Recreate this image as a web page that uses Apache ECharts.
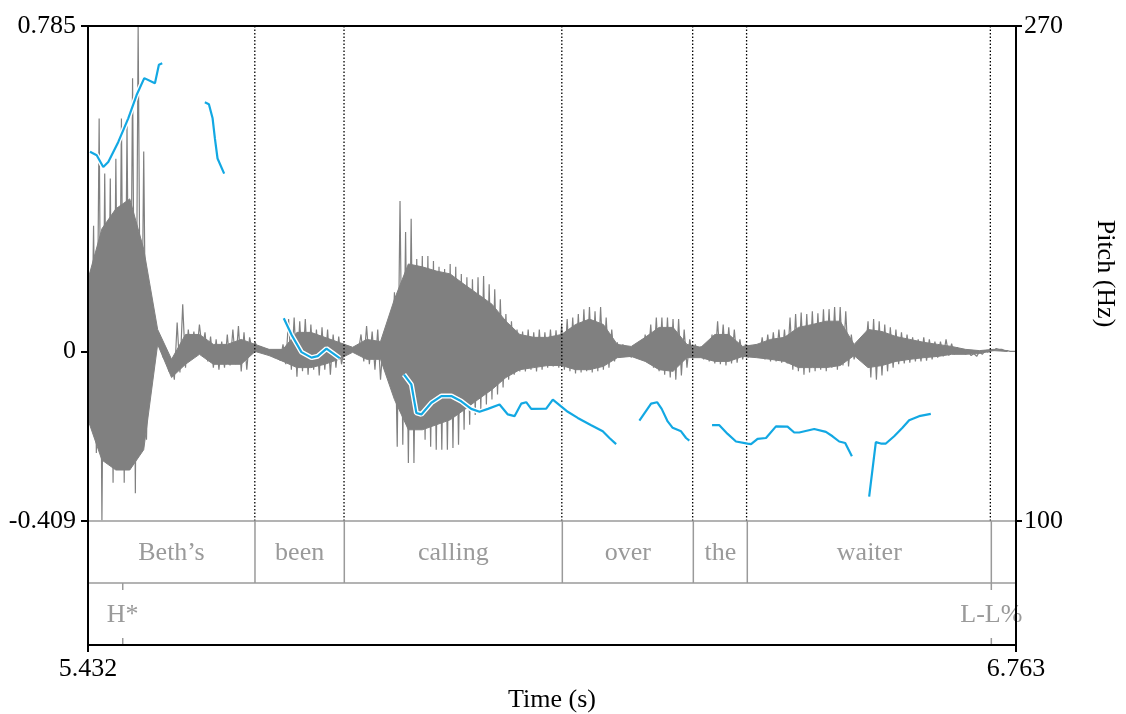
<!DOCTYPE html>
<html>
<head>
<meta charset="utf-8">
<script src="https://cdn.jsdelivr.net/npm/echarts@6/dist/echarts.min.js"></script>
<style>
html,body{margin:0;padding:0;background:#fff;}
#chart{width:1126px;height:714px;}
</style>
</head>
<body>
<div id="chart"></div>
<script>
// ---- axis ranges and tick labels ----
const TIME_MIN = 5.432, TIME_MAX = 6.763;
const AMP_MIN = -0.409, AMP_MAX = 0.785;
const PITCH_MIN = 100, PITCH_MAX = 270;
const TIME_TICKS = [5.432, 6.763];
const AMP_TICKS = [-0.409, 0, 0.785];
const PITCH_TICKS = [100, 270];

// ---- waveform spikes: successive extremes (peak, trough) sampled every WAVE_DT s ----
const WAVE_T0 = 5.432, WAVE_DT = 0.004;
const WAVE_HI = [
 0.247,0.303,0.562,0.429,0.417,0.465,0.562,0.545,0.659,0.785,
 0.482,0.126,0.078,0.022,0.005,-0.024,0.070,0.114,0.053,0.048,
 0.065,0.046,0.036,0.029,0.024,0.041,0.053,0.061,0.046,0.034,
 0.022,0.012,0.005,-0.002,-0.010,0.017,0.078,0.082,0.073,0.078,
 0.065,0.053,0.058,0.053,0.041,0.036,0.010,0.012,0.010,0.041,
 0.061,0.048,0.053,0.024,0.029,0.143,0.363,0.288,0.320,0.223,
 0.230,0.230,0.218,0.204,0.199,0.211,0.204,0.187,0.179,0.174,
 0.179,0.182,0.162,0.150,0.126,0.090,0.073,0.053,0.048,0.053,
 0.046,0.053,0.046,0.053,0.051,0.065,0.078,0.082,0.090,0.102,
 0.107,0.097,0.107,0.082,0.053,0.022,0.017,0.012,0.015,0.022,
 0.041,0.065,0.082,0.082,0.082,0.078,0.078,0.053,0.029,0.017,
 0.012,0.017,0.041,0.073,0.065,0.058,0.053,0.029,0.017,0.015,
 0.017,0.034,0.041,0.046,0.053,0.053,0.082,0.090,0.094,0.090,
 0.097,0.092,0.102,0.102,0.107,0.107,0.097,0.041,0.017,0.005,
 0.073,0.078,0.073,0.065,0.058,0.053,0.046,0.041,0.034,0.029,
 0.034,0.029,0.024,0.024,0.029,0.019,0.010,0.005,0,-0.005,
 0,0.002,0.005,0.007,0.005,0.002,0
];
const WAVE_LO = [
 -0.165,-0.245,-0.407,-0.213,-0.317,-0.262,-0.317,-0.269,-0.342,-0.237,
 -0.213,-0.044,0.017,-0.015,-0.048,-0.068,-0.051,-0.039,-0.012,-0.007,
 0.005,-0.024,-0.039,-0.044,-0.039,-0.034,-0.031,-0.048,-0.044,0,
 0.005,0,-0.007,-0.015,-0.022,-0.031,-0.044,-0.061,-0.048,-0.056,
 -0.044,-0.058,-0.044,-0.056,-0.039,-0.031,-0.005,0,-0.002,-0.024,
 -0.031,-0.044,-0.068,-0.019,-0.027,-0.230,-0.225,-0.269,-0.269,-0.177,
 -0.213,-0.230,-0.237,-0.237,-0.237,-0.233,-0.225,-0.189,-0.177,-0.153,
 -0.141,-0.128,-0.116,-0.104,-0.087,-0.068,-0.056,-0.048,-0.048,-0.044,
 -0.048,-0.044,-0.039,-0.036,-0.039,-0.044,-0.048,-0.053,-0.051,-0.048,
 -0.051,-0.048,-0.044,-0.039,-0.024,-0.015,-0.010,-0.015,-0.012,-0.019,
 -0.024,-0.039,-0.048,-0.056,-0.063,-0.068,-0.058,-0.039,-0.015,-0.007,
 -0.019,-0.024,-0.029,-0.031,-0.034,-0.029,-0.027,-0.019,-0.015,-0.010,
 -0.015,-0.019,-0.024,-0.024,-0.027,-0.029,-0.044,-0.048,-0.056,-0.051,
 -0.048,-0.044,-0.048,-0.039,-0.044,-0.034,-0.036,-0.019,0,-0.007,
 -0.063,-0.068,-0.058,-0.048,-0.039,-0.031,-0.029,-0.027,-0.024,-0.024,
 -0.022,-0.019,-0.015,-0.012,-0.010,-0.007,-0.005,-0.007,-0.010,-0.012,
 -0.007,-0.002,0.002,0.005,0.002,0,0
];
// ---- waveform dense core band, sampled every CORE_DT s ----
const CORE_T0 = 5.432, CORE_DT = 0.02;
const CORE_HI = [
 0.174,0.296,0.344,0.368,0.247,0.053,-0.019,0.041,0.041,0.017,
 0.017,0.029,0.017,0.005,0.005,0.046,0.046,0.034,0.022,0.010,
 0.029,0.024,0.126,0.211,0.204,0.194,0.187,0.162,0.138,0.114,
 0.073,0.041,0.034,0.034,0.041,0.065,0.078,0.065,0.017,0.012,
 0.034,0.058,0.058,0.017,0.010,0.041,0.041,0.012,0.017,0.029,
 0.034,0.058,0.065,0.073,0.073,0.017,0.053,0.048,0.036,0.029,
 0.022,0.017,0.012,0.005,0.002,0.005,0.002
];
const CORE_LO = [
 -0.165,-0.262,-0.286,-0.286,-0.237,0.017,-0.063,-0.031,-0.007,-0.031,
 -0.031,-0.031,0,-0.010,-0.024,-0.039,-0.039,-0.031,-0.019,-0.002,
 -0.019,-0.019,-0.116,-0.189,-0.189,-0.177,-0.165,-0.141,-0.116,-0.092,
 -0.063,-0.044,-0.039,-0.034,-0.034,-0.044,-0.044,-0.036,-0.015,-0.012,
 -0.024,-0.044,-0.048,-0.015,-0.015,-0.024,-0.024,-0.012,-0.015,-0.019,
 -0.024,-0.039,-0.039,-0.039,-0.034,-0.010,-0.039,-0.034,-0.024,-0.019,
 -0.015,-0.012,-0.007,-0.007,-0.005,0.002,0
];

// ---- pitch contour (s, Hz); null = unvoiced gap ----
const PITCH_T = [
 5.4349,5.4445,5.4539,5.4611,5.4755,5.4898,5.5018,5.5128,5.5281,5.5338,5.5386, null,
 5.5998,5.6056,5.6109,5.6142,5.6180,5.6275, null,
 5.7131,5.7246,5.7385,5.7529,5.7619,5.7744,5.7838,5.7934, null,
 5.8857,5.8963,5.9035,5.9106,5.9250,5.9393,5.9537,5.9680,5.9823,5.9942,6.0062,6.0229,6.0348,6.0444,6.0540,6.0612,6.0684,6.0899,6.0994,6.1209,6.1352,6.1545,6.1711,6.1807,6.1903, null,
 6.2237,6.2405,6.2491,6.2557,6.2643,6.2715,6.2835,6.2907,6.2954, null,
 6.3280,6.3385,6.3504,6.3624,6.3791,6.3840,6.3934,6.4055,6.4198,6.4364,6.4460,6.4532,6.4747,6.4915,6.5010,6.5106,6.5192,6.5288, null,
 6.5536,6.5632,6.5704,6.5776,6.5895,6.6014,6.6110,6.6253,6.6421
];
const PITCH_HZ = [
 226.8,225.6,221.6,223.3,230.2,238.3,246.3,252.1,250.3,256.7,257.2, null,
 243.8,243.1,238.3,231.4,224.5,219.3, null,
 169.6,163.8,158.0,156.1,156.6,159.2,157.6,155.9, null,
 150.3,146.9,137.1,136.6,140.6,142.9,142.9,141.1,138.5,137.5,138.5,140.0,136.6,136.0,140.3,140.8,138.5,138.6,141.7,137.5,135.4,132.9,130.8,128.5,126.4, null,
 134.5,140.3,140.8,138.5,134.2,132.0,130.8,128.5,127.6, null,
 132.9,132.9,129.9,127.3,126.6,126.4,128.2,128.5,132.5,132.4,130.4,130.4,131.6,130.6,129.1,127.3,126.8,122.2, null,
 108.4,127.1,126.6,126.6,129.1,132.0,134.6,136.0,136.8
];

// ---- TextGrid tiers ----
const WORD_BOUNDS = [5.432, 5.6715, 5.7996, 6.1123, 6.3002, 6.3776, 6.7276, 6.763];
const WORD_LABELS = ['Beth\u2019s', 'been', 'calling', 'over', 'the', 'waiter', ''];
const TONE_TIMES = [5.4818, 6.7276];
const TONE_LABELS = ['H*', 'L-L%'];

// ---- build series data ----
const waveData = [];
for (let k = 0; k < WAVE_HI.length; k++) {
  waveData.push([WAVE_T0 + 2 * k * WAVE_DT, WAVE_HI[k]]);
  waveData.push([WAVE_T0 + (2 * k + 1) * WAVE_DT, WAVE_LO[k]]);
}
const pitchData = PITCH_T.map((t, i) => t === null ? [null, '-'] : [t, PITCH_HZ[i]]);
const wordData = [];
for (let i = 0; i < WORD_LABELS.length; i++) wordData.push([WORD_BOUNDS[i], WORD_BOUNDS[i + 1], WORD_LABELS[i]]);
const innerBounds = WORD_BOUNDS.slice(1, -1);
const toneData = TONE_TIMES.map((t, i) => [t, TONE_LABELS[i]]);

const FONT = '"Liberation Serif", "Times New Roman", serif';
const GREY = '#9a9a9a';
const WAVE_GREY = '#808080';
const txt = { fontFamily: FONT, fontSize: 26, color: '#000' };

const chart = echarts.init(document.getElementById('chart'), null, { renderer: 'canvas' });
chart.setOption({
  animation: false,
  backgroundColor: '#fff',
  grid: [
    { left: 88, top: 26, width: 928, height: 495 },
    { left: 88, top: 521, width: 928, height: 124 },
    { left: 88, top: 26, width: 928, height: 619, show: true, borderColor: '#000', borderWidth: 2, backgroundColor: 'rgba(0,0,0,0)', z: 10 }
  ],
  xAxis: [
    { gridIndex: 0, type: 'value', min: TIME_MIN, max: TIME_MAX, show: false },
    {
      gridIndex: 1, type: 'value', min: TIME_MIN, max: TIME_MAX,
      axisLine: { show: false }, splitLine: { show: false },
      axisTick: { show: true, customValues: TIME_TICKS, length: 7, lineStyle: { color: '#000', width: 2 } },
      axisLabel: { customValues: TIME_TICKS, formatter: v => v.toFixed(3), margin: 11, ...txt },
      name: 'Time (s)', nameLocation: 'middle', nameGap: 42, nameTextStyle: txt
    }
  ],
  yAxis: [
    {
      gridIndex: 0, type: 'value', position: 'left', min: AMP_MIN, max: AMP_MAX,
      axisLine: { show: false }, splitLine: { show: false },
      axisTick: { show: true, customValues: AMP_TICKS, length: 7, lineStyle: { color: '#000', width: 2 } },
      axisLabel: { customValues: AMP_TICKS, formatter: v => String(v), margin: 12, ...txt }
    },
    {
      gridIndex: 0, type: 'value', position: 'right', min: PITCH_MIN, max: PITCH_MAX,
      axisLine: { show: false }, splitLine: { show: false },
      axisTick: { show: true, customValues: PITCH_TICKS, length: 7, lineStyle: { color: '#000', width: 2 } },
      axisLabel: { customValues: PITCH_TICKS, formatter: v => String(v), margin: 9, ...txt },
      name: 'Pitch (Hz)', nameLocation: 'middle', nameRotate: -90, nameGap: 77, nameTextStyle: txt
    },
    { gridIndex: 1, type: 'value', min: 0, max: 2, show: false }
  ],
  series: [
    {
      // dense core band of the waveform
      type: 'custom', xAxisIndex: 0, yAxisIndex: 0, data: [[TIME_MIN, 0]], z: 2, silent: true,
      renderItem: (params, api) => {
        const pts = [];
        for (let j = 0; j < CORE_HI.length; j++) pts.push(api.coord([CORE_T0 + j * CORE_DT, CORE_HI[j]]));
        for (let j = CORE_LO.length - 1; j >= 0; j--) pts.push(api.coord([CORE_T0 + j * CORE_DT, CORE_LO[j]]));
        return { type: 'polygon', shape: { points: pts }, style: { fill: WAVE_GREY, stroke: WAVE_GREY, lineWidth: 1 } };
      }
    },
    {
      type: 'line', xAxisIndex: 0, yAxisIndex: 0, data: waveData, symbol: 'none',
      lineStyle: { color: WAVE_GREY, width: 1.2 }, z: 2, silent: true
    },
    {
      type: 'custom', xAxisIndex: 0, yAxisIndex: 0, data: innerBounds.map(t => [t]), z: 3, silent: true,
      renderItem: (params, api) => {
        const t = api.value(0);
        const p1 = api.coord([t, AMP_MAX]), p2 = api.coord([t, AMP_MIN]);
        return { type: 'line', shape: { x1: p1[0], y1: p1[1], x2: p2[0], y2: p2[1] },
          style: { stroke: '#000', lineWidth: 1.3, lineDash: [1.5, 2] } };
      }
    },
    {
      type: 'line', xAxisIndex: 0, yAxisIndex: 1, data: pitchData, symbol: 'none', connectNulls: false,
      lineStyle: { color: '#ffffff', width: 5 }, z: 4, silent: true
    },
    {
      type: 'line', xAxisIndex: 0, yAxisIndex: 1, data: pitchData, symbol: 'none', connectNulls: false,
      lineStyle: { color: '#12a8e3', width: 2.2 }, z: 5, silent: true
    },
    {
      type: 'custom', xAxisIndex: 1, yAxisIndex: 2, data: [[2], [1]], z: 3, silent: true,
      renderItem: (params, api) => {
        const v = api.value(0);
        const p1 = api.coord([TIME_MIN, v]), p2 = api.coord([TIME_MAX, v]);
        return { type: 'line', shape: { x1: p1[0], y1: p1[1], x2: p2[0], y2: p2[1] },
          style: { stroke: GREY, lineWidth: 1.5 } };
      }
    },
    {
      type: 'custom', xAxisIndex: 1, yAxisIndex: 2, data: wordData, z: 3, silent: true,
      renderItem: (params, api) => {
        const s = api.value(0), e = api.value(1);
        const label = wordData[params.dataIndex][2];
        const children = [];
        const c = api.coord([(s + e) / 2, 1.5]);
        children.push({ type: 'text', style: { text: label, x: c[0], y: c[1] + 1, align: 'center', verticalAlign: 'middle',
          fill: GREY, font: '26px ' + FONT } });
        if (e < TIME_MAX) {
          const a = api.coord([e, 2]), b = api.coord([e, 1]);
          children.push({ type: 'line', shape: { x1: a[0], y1: a[1], x2: b[0], y2: b[1] }, style: { stroke: GREY, lineWidth: 1.5 } });
        }
        return { type: 'group', children };
      }
    },
    {
      type: 'custom', xAxisIndex: 1, yAxisIndex: 2, data: toneData, z: 3, silent: true,
      renderItem: (params, api) => {
        const t = api.value(0);
        const label = toneData[params.dataIndex][1];
        const top = api.coord([t, 1]), bot = api.coord([t, 0]), mid = api.coord([t, 0.5]);
        return { type: 'group', children: [
          { type: 'line', shape: { x1: top[0], y1: top[1], x2: top[0], y2: top[1] + 7 }, style: { stroke: GREY, lineWidth: 1.5 } },
          { type: 'line', shape: { x1: bot[0], y1: bot[1], x2: bot[0], y2: bot[1] - 7 }, style: { stroke: GREY, lineWidth: 1.5 } },
          { type: 'text', style: { text: label, x: mid[0], y: mid[1] + 1, align: 'center', verticalAlign: 'middle',
            fill: GREY, font: '26px ' + FONT } }
        ] };
      }
    }
  ]
});
</script>
</body>
</html>
